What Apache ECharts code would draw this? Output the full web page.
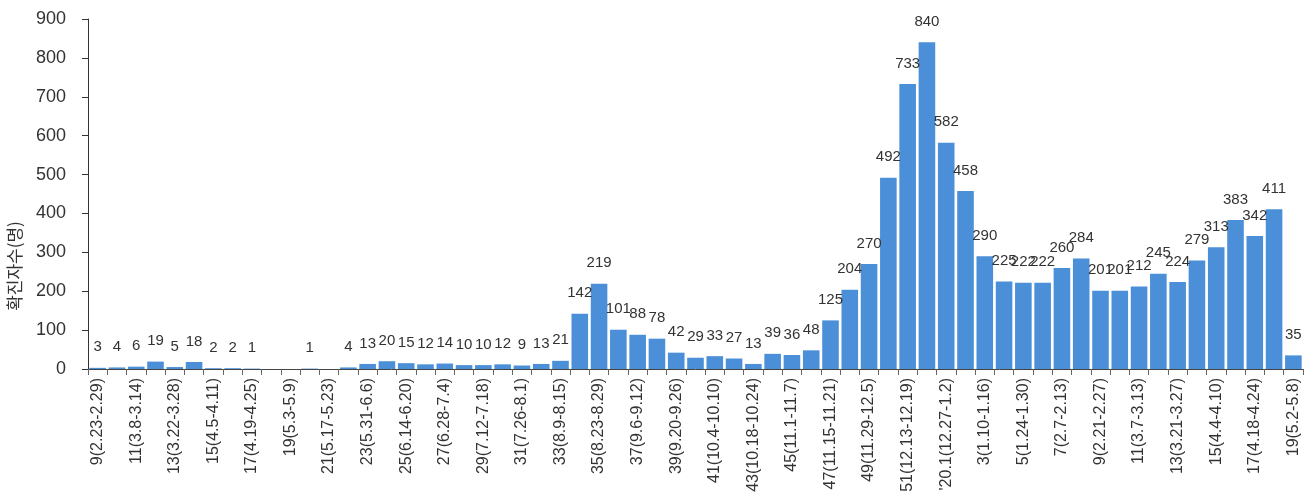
<!DOCTYPE html>
<html><head><meta charset="utf-8">
<script src="https://cdn.jsdelivr.net/npm/echarts@6/dist/echarts.min.js"></script>
<style>html,body{margin:0;padding:0;background:#fff}#c{width:1312px;height:504px}</style>
</head><body><div id="c"></div>
<script>
const weeks = ["9(2.23-2.29)","10(3.1-3.7)","11(3.8-3.14)","12(3.15-3.21)","13(3.22-3.28)","14(3.29-4.4)","15(4.5-4.11)","16(4.12-4.18)","17(4.19-4.25)","18(4.26-5.2)","19(5.3-5.9)","20(5.10-5.16)","21(5.17-5.23)","22(5.24-5.30)","23(5.31-6.6)","24(6.7-6.13)","25(6.14-6.20)","26(6.21-6.27)","27(6.28-7.4)","28(7.5-7.11)","29(7.12-7.18)","30(7.19-7.25)","31(7.26-8.1)","32(8.2-8.8)","33(8.9-8.15)","34(8.16-8.22)","35(8.23-8.29)","36(8.30-9.5)","37(9.6-9.12)","38(9.13-9.19)","39(9.20-9.26)","40(9.27-10.3)","41(10.4-10.10)","42(10.11-10.17)","43(10.18-10.24)","44(10.25-10.31)","45(11.1-11.7)","46(11.8-11.14)","47(11.15-11.21)","48(11.22-11.28)","49(11.29-12.5)","50(12.6-12.12)","51(12.13-12.19)","52(12.20-12.26)","'20.1(12.27-1.2)","2(1.3-1.9)","3(1.10-1.16)","4(1.17-1.23)","5(1.24-1.30)","6(1.31-2.6)","7(2.7-2.13)","8(2.14-2.20)","9(2.21-2.27)","10(2.28-3.6)","11(3.7-3.13)","12(3.14-3.20)","13(3.21-3.27)","14(3.28-4.3)","15(4.4-4.10)","16(4.11-4.17)","17(4.18-4.24)","18(4.25-5.1)","19(5.2-5.8)"];
const cases = [3,4,6,19,5,18,2,2,1,0,0,1,0,4,13,20,15,12,14,10,10,12,9,13,21,142,219,101,88,78,42,29,33,27,13,39,36,48,125,204,270,492,733,840,582,458,290,225,222,222,260,284,201,201,212,245,224,279,313,383,342,411,35];
const yTicks = [0,100,200,300,400,500,600,700,800,900];
const yTitle = "확진자수(명)";

const chart = echarts.init(document.getElementById('c'), null, {renderer:'canvas'});
const font = "'Liberation Sans', Arial, sans-serif";
chart.setOption({
  animation:false,
  backgroundColor:'#fff',
  textStyle:{fontFamily:font},
  grid:{left:88,right:9,top:19,bottom:135,containLabel:false},
  xAxis:{
    type:'category', data:weeks,
    axisLine:{lineStyle:{color:'#444',width:1}},
    axisTick:{show:true,interval:0,length:6,lineStyle:{color:'#666'}},
    axisLabel:{interval:1,rotate:90,fontSize:16,color:'#333',margin:9,fontFamily:font}
  },
  yAxis:{
    type:'value', min:yTicks[0], max:yTicks[yTicks.length-1], interval:100,
    axisLine:{show:true,lineStyle:{color:'#333',width:1}},
    axisTick:{show:true,length:6,lineStyle:{color:'#333'}},
    splitLine:{show:false},
    axisLabel:{fontSize:18,color:'#333',margin:22,fontFamily:font}
  },
  graphic:[{type:'text',x:6,y:266,rotation:Math.PI/2,
    style:{text:yTitle,fill:'#333',font:"17px 'Noto Sans CJK KR', sans-serif",align:'center',verticalAlign:'top'}}],
  series:[{
    type:'bar', data:cases, barCategoryGap:'14%',
    itemStyle:{color:'#4A8FD8'},
    label:{show:true,position:'top',fontSize:15,color:'#333',distance:13,fontFamily:font,
      formatter:p=>p.value>0?String(p.value):''}
  }]
});
</script></body></html>
